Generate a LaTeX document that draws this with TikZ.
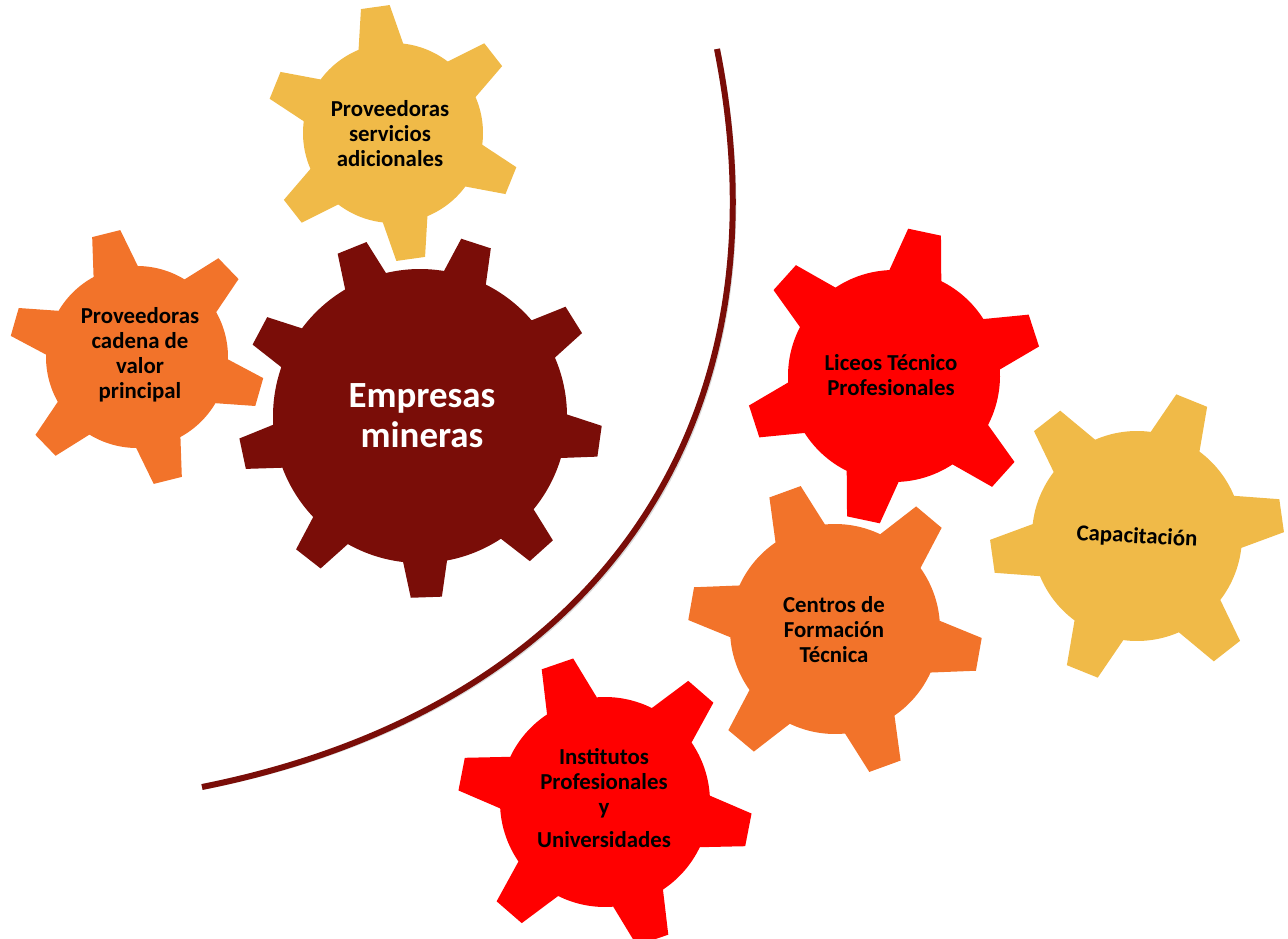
\documentclass[tikz,border=0pt]{standalone}
\usepackage{fontspec}
\setmainfont{Carlito}
\usetikzlibrary{positioning}
\definecolor{gold}{HTML}{F0BA48}
\definecolor{orangegear}{HTML}{F2732A}
\definecolor{redgear}{HTML}{FF0000}
\definecolor{darkred}{HTML}{7A0D08}
% gear outline: colour, x, y, teeth, body radius, tip radius, offset, base half angle, tip half angle
\newcommand{\gearshape}[9]{%
  \fill[#1, shift={(#2,#3)}] ({#7+#8}:#5)
    \foreach \k in {1,...,#4} {
      arc[start angle={#7+(\k-1)*360/#4+#8}, end angle={#7+\k*360/#4-#8}, radius=#5]
      -- ({#7+\k*360/#4-#9}:#6) -- ({#7+\k*360/#4+#9}:#6) -- ({#7+\k*360/#4+#8}:#5)
    } -- cycle;
}
\tikzset {
  % text in the small gears
  gearlabel/.style = {align=center, text=black, font=\fontsize{13}{14.2}\selectfont\bfseries},
  % text in the big gear
  biglabel/.style = {align=center, text=white, font=\fontsize{21}{22.7}\selectfont\bfseries},
  % the dividing arc
  divider/.style = {darkred, line width=3.4pt},
}
\begin{document}
\begin{tikzpicture}[x=0.02cm, y=0.02cm]
  \useasboundingbox (0,0) rectangle (1288,938);
  \clip (0,0) rectangle (1288,938);

  % left side
  \gearshape{gold}{393}{805}{6}{90}{128}{38}{14.5}{6.5}
  \gearshape{orangegear}{137}{581}{6}{91}{128}{44}{14.5}{6.5}
  \gearshape{darkred}{420}{522}{9}{147}{182}{32}{8.6}{4.9}

  % right side
  \gearshape{redgear}{894}{562}{6}{106}{148}{18}{14.5}{6.5}
  \gearshape{gold}{1137}{402}{6}{105}{147}{8}{14.5}{6.5}
  \gearshape{orangegear}{835}{309}{6}{105}{147}{50}{14.5}{6.5}
  \gearshape{redgear}{605}{136}{6}{105}{147}{49}{14.5}{6.5}

  \node[gearlabel] (servicios) at (390,804) {Proveedoras\\servicios\\adicionales};
  \node[gearlabel] (cadena) at (140,583) {Proveedoras\\cadena de\\valor\\principal};
  \node[biglabel] (mineras) at (422,522) {Empresas\\mineras};
  \node[gearlabel] (liceos) at (891,563) {Liceos Técnico\\Profesionales};
  \node[gearlabel, rotate=-3] (capacitacion) at (1137,401) {Capacitación};
  \node[gearlabel] (centros) at (834,308) {Centros de\\Formación\\Técnica};
  \node[gearlabel] (institutos) at (604,140) {Institutos\\Profesionales\\y\\[5pt]Universidades};

  % arc between the two groups
  \coordinate (arctop) at (717,889);
  \coordinate (arcend) at (202,151);
  \draw[black!15, line width=3.4pt, shift={(1.5,-1.5)}] (arctop) .. controls (791,519) and (602,231) .. (arcend);
  \draw[divider] (arctop) .. controls (791,519) and (602,231) .. (arcend);
\end{tikzpicture}
\end{document}
